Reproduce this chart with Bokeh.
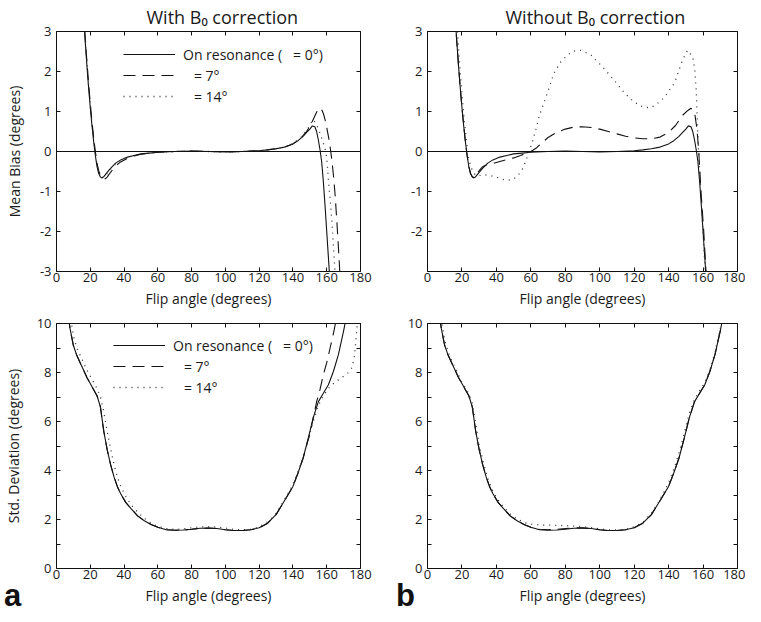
from bokeh.plotting import figure
from bokeh.layouts import gridplot, column, row
from bokeh.models import (Range1d, FixedTicker, LinearAxis, Span, Legend, LegendItem,
                          Div, GlobalInlineStyleSheet)
from bokeh.embed import file_html
from bokeh.resources import INLINE

FONT = "Open Sans"
INK = "#111111"

# ---------------- data ----------------
x_ticks = [0, 20, 40, 60, 80, 100, 120, 140, 160, 180]
bias_ticks = [-3, -2, -1, 0, 1, 2, 3]
sd_ticks = [0, 1, 2, 3, 4, 5, 6, 7, 8, 9, 10]

titles = ["With B\u2080 correction", "Without B\u2080 correction"]
y_labels = ["Mean Bias (degrees)", "Std. Deviation (degrees)"]
x_label = "Flip angle (degrees)"
panel_letters = ["a", "b"]
legend_labels = ["On resonance (\u00a0\u00a0\u00a0= 0°)", "\u00a0\u00a0\u00a0= 7°", "\u00a0\u00a0\u00a0= 14°"]

# Mean bias, on resonance (same in both panels)
bias_onres_x = [16, 17, 18, 19, 20, 21, 22, 23, 24, 25, 26, 27, 28, 30, 32, 35, 38, 42, 46, 50, 55, 60,
                70, 80, 90, 100, 110, 120, 125, 130, 135, 140, 143, 146, 148, 150, 151.5, 153, 154, 155,
                156, 157, 158, 159, 160, 161, 162]
bias_onres = [3.4, 2.75, 2.15, 1.6, 1.1, 0.65, 0.25, -0.1, -0.38, -0.55, -0.64, -0.66, -0.63, -0.52, -0.42,
              -0.29, -0.21, -0.14, -0.1, -0.06, -0.04, -0.02, 0.0, 0.01, 0.0, -0.01, 0.0, 0.02, 0.04, 0.07,
              0.11, 0.19, 0.27, 0.38, 0.47, 0.56, 0.64, 0.62, 0.5, 0.3, 0.05, -0.25, -0.75, -1.35, -2.0,
              -2.65, -3.3]

# Mean bias, with B0 correction
bias_corr7_x = [16, 17, 18, 19, 20, 21, 22, 23, 24, 25, 26, 27, 28, 29, 30, 32, 35, 38, 42, 46, 50, 55, 60,
                70, 80, 90, 100, 110, 120, 130, 135, 140, 145, 148, 150, 152, 154, 155.5, 157, 158, 159,
                160, 161, 162, 163, 164, 165, 166, 167, 168]
bias_corr7 = [3.5, 2.85, 2.25, 1.7, 1.2, 0.75, 0.35, 0.0, -0.3, -0.48, -0.6, -0.66, -0.69, -0.68, -0.64,
              -0.52, -0.36, -0.26, -0.17, -0.11, -0.07, -0.04, -0.02, 0.0, 0.01, 0.0, -0.01, 0.0, 0.02,
              0.07, 0.11, 0.19, 0.35, 0.5, 0.62, 0.8, 0.98, 1.09, 1.05, 0.95, 0.8, 0.6, 0.38, 0.12, -0.2,
              -0.6, -1.1, -1.75, -2.45, -3.2]
bias_corr14_x = [16, 17, 18, 19, 20, 21, 22, 23, 24, 25, 26, 27, 28, 30, 32, 35, 38, 42, 46, 50, 55, 60,
                 70, 80, 90, 100, 110, 120, 130, 135, 140, 145, 148, 150, 152, 154, 156, 157.5, 159, 160,
                 161, 162, 163, 164, 165]
bias_corr14 = [3.5, 2.85, 2.2, 1.65, 1.15, 0.7, 0.3, -0.05, -0.33, -0.52, -0.62, -0.65, -0.64, -0.55,
               -0.44, -0.31, -0.22, -0.15, -0.1, -0.06, -0.04, -0.02, 0.0, 0.01, 0.0, -0.01, 0.0, 0.02,
               0.07, 0.11, 0.2, 0.36, 0.52, 0.66, 0.8, 0.68, 0.46, 0.27, 0.08, -0.15, -0.7, -1.2, -1.7,
               -2.4, -3.05]

# Mean bias, without B0 correction
bias_unc7_x = [16, 17, 18, 19, 20, 21, 22, 23, 24, 25, 26, 27, 28, 30, 32, 35, 38, 42, 46, 50, 54, 57, 60,
               63, 66, 70, 75, 80, 85, 90, 95, 100, 105, 110, 115, 120, 125, 130, 135, 140, 144, 148, 151,
               153, 155, 156.5, 157.5, 158.8, 160.4, 161.7, 162.5]
bias_unc7 = [3.4, 2.75, 2.15, 1.6, 1.1, 0.65, 0.25, -0.1, -0.38, -0.55, -0.63, -0.65, -0.6, -0.48, -0.38,
             -0.32, -0.3, -0.25, -0.2, -0.16, -0.1, -0.05, 0.0, 0.08, 0.2, 0.35, 0.48, 0.56, 0.61, 0.62,
             0.6, 0.56, 0.5, 0.44, 0.38, 0.34, 0.32, 0.32, 0.36, 0.48, 0.65, 0.9, 1.02, 1.08, 1.0, 0.55,
             0.0, -1.0, -2.0, -3.0, -3.6]
bias_unc14_x = [17, 18, 19, 20, 21, 22, 23, 24, 26, 28, 30, 33, 36, 40, 43, 46.5, 50, 52.5, 55, 57, 59, 61,
                63, 65, 69, 73.5, 77, 81.5, 85, 89, 95, 101.5, 106, 110.5, 114, 118, 122, 126, 130, 133.5,
                137.5, 143.5, 148, 151, 154, 155.2, 156, 157.3, 159, 160.4, 161.3, 162]
bias_unc14 = [3.3, 2.6, 2.0, 1.45, 0.95, 0.5, 0.1, -0.2, -0.48, -0.6, -0.6, -0.58, -0.6, -0.64, -0.69,
              -0.72, -0.69, -0.6, -0.45, -0.25, 0.0, 0.25, 0.57, 0.9, 1.39, 1.96, 2.22, 2.42, 2.51, 2.53,
              2.41, 2.12, 1.9, 1.67, 1.48, 1.31, 1.18, 1.1, 1.1, 1.2, 1.35, 1.72, 2.28, 2.53, 2.37, 2.05,
              1.55, 0.08, -1.21, -2.35, -3.0, -3.5]

# Std. deviation, on resonance (same in both panels)
sd_x = [7, 8, 10, 12, 14, 16, 18, 20, 22, 24, 26, 28, 30, 32, 34, 36, 38, 41, 44, 48, 52, 56, 60, 65, 70,
        75, 80, 85, 90, 95, 100, 105, 110, 115, 120, 125, 130, 134, 137, 140, 143, 146, 149, 152, 155,
        158, 161, 164, 167, 170, 172]
sd_onres = [10.3, 9.8, 9.1, 8.7, 8.4, 8.1, 7.8, 7.55, 7.3, 7.05, 6.6, 5.6, 4.85, 4.25, 3.75, 3.35, 3.05,
            2.7, 2.45, 2.15, 1.95, 1.8, 1.68, 1.58, 1.56, 1.57, 1.6, 1.64, 1.65, 1.63, 1.58, 1.55, 1.55,
            1.58, 1.66, 1.85, 2.2, 2.65, 3.0, 3.35, 3.9, 4.5, 5.3, 6.15, 6.8, 7.15, 7.5, 8.05, 8.75, 9.7,
            10.4]

# Std. deviation, with B0 correction
sd_corr7_x = [7, 8, 10, 12, 14, 16, 18, 20, 22, 24, 26, 28, 30, 32, 34, 36, 38, 41, 44, 48, 52, 56, 60, 65,
              70, 75, 80, 85, 90, 95, 100, 105, 110, 115, 120, 125, 130, 134, 137, 140, 143, 146, 148,
              150, 152, 154, 156, 158, 160, 162, 164, 166]
sd_corr7 = [10.3, 9.8, 9.1, 8.7, 8.4, 8.1, 7.8, 7.55, 7.3, 7.05, 6.6, 5.6, 4.85, 4.25, 3.75, 3.35, 3.05,
            2.7, 2.45, 2.15, 1.95, 1.8, 1.68, 1.58, 1.56, 1.57, 1.6, 1.64, 1.65, 1.63, 1.58, 1.55, 1.55,
            1.58, 1.66, 1.85, 2.2, 2.65, 3.0, 3.35, 3.9, 4.5, 5.0, 5.5, 6.15, 6.8, 7.3, 7.9, 8.4, 9.0,
            9.6, 10.3]
sd_corr14_x = [8, 10, 12, 14, 16, 18, 20, 22, 24, 26, 28, 30, 32, 34, 36, 38, 41, 44, 48, 52, 56, 60, 65,
               70, 75, 80, 85, 90, 95, 100, 105, 110, 115, 120, 125, 130, 134, 137, 140, 143, 146, 149,
               152, 155, 158, 161, 164, 167, 170, 173, 175, 176.5, 177.5, 178.5]
sd_corr14 = [10.4, 9.5, 9.0, 8.7, 8.4, 8.1, 7.85, 7.6, 7.35, 7.0, 6.4, 5.6, 4.9, 4.25, 3.75, 3.35, 2.95,
             2.62, 2.3, 2.05, 1.85, 1.72, 1.63, 1.6, 1.62, 1.66, 1.7, 1.71, 1.69, 1.65, 1.6, 1.58, 1.6,
             1.7, 1.9, 2.25, 2.7, 3.05, 3.45, 3.95, 4.55, 5.25, 6.0, 6.65, 7.05, 7.35, 7.55, 7.7, 7.85,
             8.0, 8.2, 8.7, 9.5, 10.4]

# Std. deviation, without B0 correction
sd_unc7_x = sd_x
sd_unc7 = [10.3, 9.8, 9.1, 8.7, 8.4, 8.1, 7.8, 7.55, 7.3, 7.05, 6.6, 5.6, 4.85, 4.25, 3.75, 3.35, 3.05,
           2.7, 2.45, 2.15, 1.95, 1.8, 1.68, 1.6, 1.58, 1.6, 1.63, 1.66, 1.66, 1.63, 1.58, 1.55, 1.55,
           1.58, 1.66, 1.85, 2.2, 2.65, 3.0, 3.35, 3.9, 4.5, 5.3, 6.15, 6.8, 7.15, 7.5, 8.05, 8.75, 9.7,
           10.4]
sd_unc14_x = [8, 10, 12, 14, 16, 18, 20, 22, 24, 26, 28, 30, 32, 34, 36, 38, 41, 44, 48, 52, 56, 60, 65, 70,
              75, 80, 85, 90, 95, 100, 105, 110, 115, 120, 125, 130, 134, 137, 140, 143, 146, 149, 152,
              155, 158, 161, 164, 167, 170, 172]
sd_unc14 = [10.2, 9.3, 8.85, 8.5, 8.2, 7.9, 7.6, 7.38, 7.12, 6.75, 5.9, 5.05, 4.45, 3.92, 3.5, 3.15, 2.8,
            2.52, 2.22, 2.02, 1.88, 1.81, 1.78, 1.77, 1.76, 1.75, 1.73, 1.71, 1.67, 1.62, 1.58, 1.57,
            1.6, 1.7, 1.88, 2.25, 2.7, 3.08, 3.5, 4.05, 4.7, 5.5, 6.35, 6.9, 7.25, 7.6, 8.1, 8.85, 9.8,
            10.5]

# ---------------- styling helpers ----------------
FRAME_W = 310
TITLE_OFFSETS = [90, 78]


def style_axis(ax, ticks, overrides, standoff, label_standoff, show_labels=True):
    ax.ticker = FixedTicker(ticks=ticks)
    ax.major_tick_in = 4
    ax.major_tick_out = 0
    ax.minor_tick_in = 0
    ax.minor_tick_out = 0
    ax.major_tick_line_color = INK
    ax.axis_line_color = None
    ax.major_label_standoff = standoff
    ax.axis_label_standoff = label_standoff
    ax.axis_label_text_font = FONT
    ax.axis_label_text_font_size = "14px"
    ax.axis_label_text_font_style = "normal"
    ax.axis_label_text_color = "#1a1a1a"
    ax.major_label_text_font = FONT
    ax.major_label_text_color = "#1a1a1a"
    if show_labels:
        ax.major_label_overrides = overrides
        ax.major_label_text_font_size = "13px"
    else:
        ax.major_label_overrides = {t: "" for t in ticks}
        ax.major_label_text_font_size = "1px"


def make_panel(col, top):
    ylo, yhi = (-3, 3) if top else (0, 10)
    b_left, b_right = 50, (17 if col == 0 else 8)
    b_top, b_bottom = (27 if top else 10), 42
    p = figure(width=b_left + FRAME_W + b_right,
               height=b_top + (244 if top else 245) + b_bottom,
               x_range=Range1d(0, 180), y_range=Range1d(ylo, yhi),
               output_backend="svg", toolbar_location=None,
               min_border_left=b_left, min_border_right=b_right,
               min_border_top=b_top, min_border_bottom=b_bottom,
               background_fill_color="white", border_fill_color="white",
               outline_line_color=INK, outline_line_width=1)
    p.grid.visible = False
    yt = bias_ticks if top else sd_ticks
    if top:
        yover = {-3: "-3", -2: "-2", -1: "-1"}
        if col == 1:
            yover[-3] = ""
    else:
        yover = {1: "", 3: "", 5: "", 7: "", 9: ""}
    style_axis(p.xaxis[0], x_ticks, {}, 1, 4)
    p.xaxis[0].axis_label = x_label
    style_axis(p.yaxis[0], yt, yover, 5, 13 if top else 11)
    if col == 0:
        p.yaxis[0].axis_label = y_labels[0 if top else 1]
    ax_top = LinearAxis()
    style_axis(ax_top, x_ticks, {}, 0, 0, show_labels=False)
    p.add_layout(ax_top, "above")
    ax_r = LinearAxis()
    style_axis(ax_r, yt, {}, 0, 0, show_labels=False)
    p.add_layout(ax_r, "right")
    if top:
        p.title.text = titles[col]
        p.title.align = "left"
        p.title.offset = TITLE_OFFSETS[col]
        p.title.standoff = 5
        p.title.text_font = FONT
        p.title.text_font_size = "18px"
        p.title.text_font_style = "normal"
        p.title.text_color = "#1a1a1a"
    return p


def add_curves(p, xs0, ys0, xs1, ys1, xs2, ys2):
    r0 = p.line(xs0, ys0, line_color=INK, line_width=1.1)
    r1 = p.line(xs1, ys1, line_color=INK, line_width=1.1, line_dash="12 7")
    r2 = p.line(xs2, ys2, line_color="#333333", line_width=1.3, line_dash="1 5")
    return [r0, r1, r2]


def add_legend(p, rs, loc):
    items = [LegendItem(label=lab, renderers=[r]) for lab, r in zip(legend_labels, rs)]
    leg = Legend(items=items, location=loc, orientation="vertical",
                 glyph_width=52, glyph_height=20, label_height=20, label_standoff=8,
                 spacing=1, padding=0, margin=0, border_line_color=None,
                 background_fill_alpha=0, label_text_font=FONT,
                 label_text_font_size="14px", label_text_color="#1a1a1a")
    p.add_layout(leg)


# ---------------- panels ----------------
p1 = make_panel(0, True)
p1.add_layout(Span(location=0, dimension="width", line_color=INK, line_width=1))
rs1 = add_curves(p1, bias_onres_x, bias_onres, bias_corr7_x, bias_corr7, bias_corr14_x, bias_corr14)
add_legend(p1, rs1, (67, 165))

p2 = make_panel(1, True)
p2.add_layout(Span(location=0, dimension="width", line_color=INK, line_width=1))
add_curves(p2, bias_onres_x, bias_onres, bias_unc7_x, bias_unc7, bias_unc14_x, bias_unc14)

p3 = make_panel(0, False)
rs3 = add_curves(p3, sd_x, sd_onres, sd_corr7_x, sd_corr7, sd_corr14_x, sd_corr14)
add_legend(p3, rs3, (57, 171))

p4 = make_panel(1, False)
add_curves(p4, sd_x, sd_onres, sd_unc7_x, sd_unc7, sd_unc14_x, sd_unc14)

grid = gridplot([[p1, p2], [p3, p4]], toolbar_location=None)

letter_style = {"font-family": "Liberation Sans, Arial, sans-serif", "font-weight": "bold",
                "font-size": "31px", "line-height": "34px", "color": "#111111"}
div_a = Div(text=panel_letters[0], width=392, height=34, margin=(-31, 0, 0, 4), styles=letter_style)
div_b = Div(text=panel_letters[1], width=40, height=34, margin=(-31, 0, 0, 0), styles=letter_style)

page = column(grid, row(div_a, div_b))
page.stylesheets = [GlobalInlineStyleSheet(css="html, body { overflow: hidden; }")]

open("out.html", "w").write(file_html(page, INLINE))
